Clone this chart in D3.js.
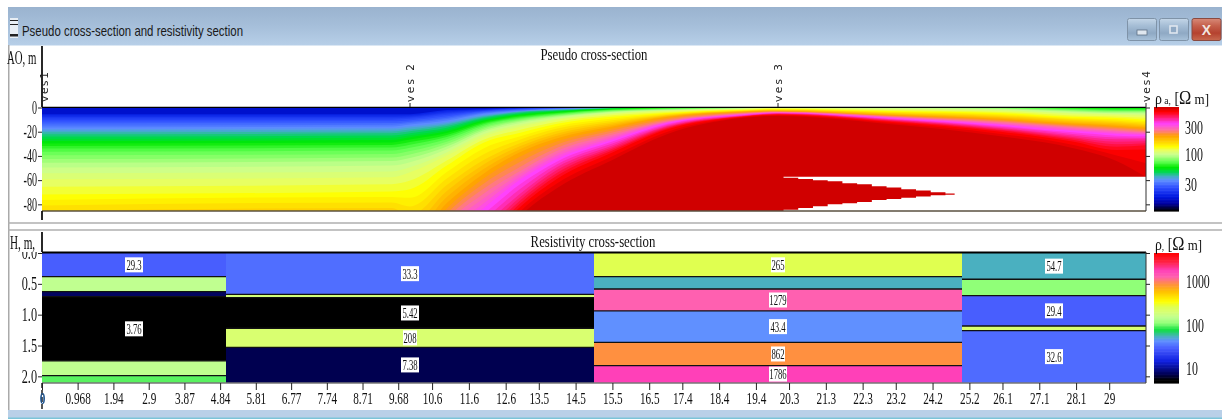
<!DOCTYPE html>
<html><head><meta charset="utf-8">
<script src="https://cdn.jsdelivr.net/npm/d3@7/dist/d3.min.js"></script>
<style>html,body{margin:0;padding:0;background:#fff;overflow:hidden}svg{display:block;filter:blur(0.4px)}</style>
</head><body><svg id="c" width="1222" height="419"></svg>
<script>
// ---------- data: pseudo cross-section ----------
const windowTitle = "Pseudo cross-section and resistivity section";
const vesNames = ["ves1", "ves 2", "ves 3", "ves4"];
const vesX = [0, 10, 20, 30];
const depthTicks = [0, -20, -40, -60, -80];
const rhoATicks = [30, 100, 300];
// isoline levels (apparent resistivity, ohm m)
const isoLevels = [20, 27, 36, 45, 60, 75, 100, 120, 138, 170, 215, 273, 350, 440, 565, 660];
const isoStations = [0, 9.5, 10, 11, 12, 13, 14, 15.5, 17, 19, 20, 23, 26, 28, 29.2, 30];
// depth (m) of each isoline, per station
const isoDepths = [
 [5.5,10.3,16.9,21,28.5,35,47.4,59.8,72.2,85.4,109,134,159,184,208,233],
 [5.5,10.3,16.1,20.2,27.6,34.2,45.8,58.2,69.7,82.9,105,130,155,179,204,229],
 [5.5,9.5,14.4,18.6,25.2,31.8,43.3,54,68,88.7,113,138,163,188,208,229],
 [2.1,6.2,11.1,14.4,20.2,25.2,33.4,40,48.3,63.9,80.4,94.4,109,126,142,159],
 [1.2,2.9,5.4,7.8,11.1,14.4,19.4,24.3,29.3,43.3,55.7,69.7,83.7,99.4,113,127],
 [0.4,1.2,2.9,3.7,6.2,8.7,12,16.1,21,29.3,37.5,51.6,59.8,72.2,81.3,89.5],
 [0,0.4,1.2,2.1,3.7,5.4,7.8,10.3,13.6,19.4,26,35,42.5,49.9,58.2,66.4],
 [0,0,0.4,0.4,1.2,2.1,3.7,5.4,7.8,11.9,16.1,21.8,26.8,31.8,36.7,43.3],
 [0,0,0,0,0.4,0.8,2.1,2.9,4.5,6.2,7.8,11.1,12.8,15.3,17.7,21.9],
 [0,0,0,0,0,0.4,0.8,1.2,2.1,2.9,3.7,5,6.2,7,7.8,8.7],
 [0,0,0,0,0,0,0.4,0.4,1.2,2.1,2.9,3.7,4.5,5,5.8,7],
 [0,0,0,0,0,0,0.4,1.6,2.9,4.5,6.2,7.4,8.7,10,11.5,13.6],
 [0,0,0,0,0,0.25,1.2,2.9,4.5,7,9.5,12,14.4,16.9,19.4,23.5],
 [0,0,0,0,0.4,1.2,3.3,5.5,7.8,10.3,13.6,16.1,19.4,23.5,27.6,33.4],
 [0,0,0,0,0.4,2.1,4.5,6.2,8.7,12,15.3,18.6,21.9,26.8,34.2,44.1],
 [0,0,0,0,0.4,2.1,4.5,7,10.3,13.6,16.9,20.2,22.7,26.8,32.6,57.3]
];
// no-data region
const blankTop = 57.3, blankBottom = 85.5;
const wedgeX =      [20.15,20.55,20.95,21.35,21.75,22.15,22.55,22.95,23.35,23.75,24.15,24.55,24.8,30];
const wedgeUpper =  [58,59,60,61,62.5,63.5,65,66,67.5,68.5,70,71,71.5,71.5];
const wedgeLower =  [84.5,83,81.5,80,79,78,76.5,75.5,74.5,73.5,72.5,72,71.5,71.5];

// ---------- data: resistivity section ----------
const xTickValues = [0,0.968,1.94,2.9,3.87,4.84,5.81,6.77,7.74,8.71,9.68,10.6,11.6,12.6,13.5,14.5,15.5,16.5,17.4,18.4,19.4,20.3,21.3,22.3,23.2,24.2,25.2,26.1,27.1,28.1,29];
const hTicks = [0, 0.5, 1, 1.5, 2];
const rhoTicks = [10, 100, 1000];
const blockEdges = [0, 5, 15, 25, 30];
const layerTops = [
 [0,0.384,0.627,0.709,1.75,1.99],
 [0,0.67,0.725,1.22,1.53],
 [0,0.384,0.584,0.94,1.448,1.827],
 [0,0.426,0.692,1.184,1.26]
];
const layerRho = [
 [29.3,150,8,3.76,150,95],
 [33.3,190,5.42,208,7.38],
 [265,54.7,1279,43.4,862,1786],
 [54.7,110,29.4,208,32.6]
];
const layerLabels = [
 ["29.3",null,null,"3.76",null,null],
 ["33.3",null,"5.42","208","7.38"],
 ["265",null,"1279","43.4","862","1786"],
 ["54.7",null,"29.4",null,"32.6"]
];
// colour ramps
const rhoAStops = [10.5,14,18.5,27,36,42,50,60,75,100,120,138,170,215,273,350,440,565,660];
const rhoAColors = ["#000000","#0000a0","#0018e0","#3050ff","#6090ff","#40b0c0","#00d850","#00e800","#60ff50","#c8ff90","#e8ff60","#ffff00","#ffd000","#ffa000","#ff70a0","#ff40ff","#ff2080","#ff0000","#d00000"];
const rhoStops = [4.8,5.5,7.38,15,30,43.4,54.7,78,110,150,208,265,347,590,862,1279,1786,2850,4500];
const rhoColors = ["#000000","#000000","#000050","#1020e0","#4a60ff","#6090ff","#4ab0c0","#10e040","#90ff78","#c0ff90","#d9ff70","#e0ff50","#ffff00","#ffc000","#ff9040","#ff60b0","#ff40b8","#ff2040","#ff0000"];

// ---------- scales ----------
const svg = d3.select("#c");
const SERIF = "'Liberation Serif',serif";
const L = 42, R = 1146;
const x = d3.scaleLinear().domain([0,30]).range([L,R]);
const yA = d3.scaleLinear().domain([0,85.5]).range([107.5,211]);
const yH = d3.scaleLinear().domain([0,2.1]).range([253,382.5]);
const logA = v => Math.log10(v);
const colA = d3.scaleLog().domain(rhoAStops).range(rhoAColors).clamp(true);
const colR = d3.scaleLog().domain(rhoStops).range(rhoColors).clamp(true);
const barA = d3.scaleLog().domain([10.5,690]).range([211,107]);
const barR = d3.scaleLog().domain([4.78,4540]).range([383,253]);

function squeeze(sel, f){
  sel.each(function(){
    const t=d3.select(this); const n=this.getComputedTextLength();
    t.attr("textLength",n*f).attr("lengthAdjust","spacingAndGlyphs");
  });
  return sel;
}
function label(txt,xp,yp,size,f,anchor){
  return squeeze(svg.append("text").attr("x",xp).attr("y",yp).attr("dy","0.35em")
    .attr("font-family",SERIF).attr("font-size",size).attr("fill","#111")
    .attr("text-anchor",anchor||"start").text(txt),f);
}

// ---------- window chrome ----------
const defs = svg.append("defs");
function grad(id,stops){
  const g=defs.append("linearGradient").attr("id",id).attr("x1",0).attr("x2",0).attr("y1",0).attr("y2",1);
  stops.forEach((c,i)=>g.append("stop").attr("offset",i/(stops.length-1)).attr("stop-color",c));
}
grad("bar",["#9ab3cf","#a6bfda","#b7cfe8"]);
grad("btn",["#c4d6e8","#a5bdd5","#8fa9c4","#a9c2da"]);
grad("cls",["#d78a78","#c5604c","#b5422f","#c86a50"]);
svg.append("rect").attr("x",8).attr("y",7).attr("width",1214).attr("height",38.5).attr("fill","url(#bar)");
svg.append("rect").attr("x",8).attr("y",45).attr("width",1.5).attr("height",365).attr("fill","#aaaaaa");
svg.append("rect").attr("x",8).attr("y",410).attr("width",1214).attr("height",9).attr("fill","#b9d0e8");
svg.append("rect").attr("x",8).attr("y",417.5).attr("width",1214).attr("height",1.5).attr("fill","#7cc4d8");
[223,230].forEach(v=>svg.append("rect").attr("x",8).attr("y",v-0.75).attr("width",1214).attr("height",1.5).attr("fill","#b0b0b0"));
// icon
svg.append("rect").attr("x",10).attr("y",18).attr("width",8).attr("height",20).attr("fill","#e8eef4");
[[20,1],[24,1],[34,2.5]].forEach(d=>svg.append("rect").attr("x",10).attr("y",d[0]).attr("width",8).attr("height",d[1]).attr("fill","#222"));
svg.append("text").attr("x",22).attr("y",30.5).attr("dy","0.35em").attr("font-family","'Liberation Sans Narrow','Liberation Sans',sans-serif")
  .attr("font-size",15).attr("fill","#1a1a1a").attr("textLength",221).attr("lengthAdjust","spacingAndGlyphs").text(windowTitle);
[[1127.5,"btn"],[1159.5,"btn"],[1192,"cls"]].forEach(d=>{
  svg.append("rect").attr("x",d[0]).attr("y",18.5).attr("width",29).attr("height",22).attr("rx",2)
   .attr("fill",`url(#${d[1]})`).attr("stroke",d[1]=="cls"?"#8a4a40":"#7f93a8");
});
svg.append("rect").attr("x",1137).attr("y",30).attr("width",10).attr("height",5).attr("fill","#dfe7ef").attr("stroke","#5d7186").attr("stroke-width",.8);
svg.append("rect").attr("x",1170).attr("y",26).attr("width",7).attr("height",7).attr("fill","#8fa9c4").attr("stroke","#dfe7ef").attr("stroke-width",1.6);
svg.append("text").attr("x",1206.5).attr("y",30).attr("dy","0.36em").attr("text-anchor","middle").attr("font-family","'Liberation Sans',sans-serif").attr("font-weight","bold").attr("font-size",14).attr("fill","#f2e6e0").text("X");

// ---------- pseudo section ----------
defs.append("clipPath").attr("id","clipA").append("rect").attr("x",L).attr("y",107.5).attr("width",R-L).attr("height",103.5);
const gA = svg.append("g").attr("clip-path","url(#clipA)");
const lo = logA(14), hi = logA(660), nBands = 54;
gA.append("rect").attr("x",L).attr("y",107.5).attr("width",R-L).attr("height",103.5).attr("fill",colA(17));
const bandLevels = d3.range(nBands).map(i=>Math.pow(10,lo+(hi-lo)*(i+1)/nBands)).filter(v=>v>=20);
const isoLog = isoLevels.map(logA);
const area = d3.area().x(d=>x(d.x)).y0(yA(90)).y1(d=>yA(d.d)).curve(d3.curveMonotoneX);
gA.selectAll("path.band").data(bandLevels).join("path").attr("class","band")
  .attr("fill",v=>colA(v))
  .attr("d",v=>{
    const lv=logA(v);
    return area(isoStations.map((s,i)=>{
      const depth=d3.scaleLinear().domain(isoLog).range(isoDepths[i]).clamp(true);
      return {x:s,d:depth(lv)};
    }));
  });
// no-data (white)
const wedge = wedgeX.map((u,i)=>({u,up:wedgeUpper[i],lw:wedgeLower[i]}));
gA.append("path").attr("fill","#fff").attr("d",d3.area().x(d=>x(d.u)).y0(yA(blankTop)).y1(d=>yA(d.up)).curve(d3.curveStepAfter)(wedge));
gA.append("path").attr("fill","#fff").attr("d",d3.area().x(d=>x(d.u)).y0(yA(blankBottom)).y1(d=>yA(d.lw)).curve(d3.curveStepAfter)(wedge));

// axes, pseudo section
const yAplot = d3.scaleLinear().domain([0,-85.5]).range([107.5,211]);
function cleanAxis(g,w){ g.select(".domain").remove(); g.selectAll("line").attr("stroke","#222").attr("stroke-width",w||1); }
const ax1 = svg.append("g").attr("transform",`translate(${L},0)`).call(d3.axisLeft(yAplot).tickValues(depthTicks).tickSize(4).tickPadding(1).tickFormat(d=>d));
cleanAxis(ax1);
ax1.selectAll("text").attr("font-family",SERIF).attr("font-size",18).attr("fill","#111").each(function(){
  squeeze(d3.select(this),0.56);
});
const ax2 = svg.append("g").attr("transform",`translate(${R},0)`).call(d3.axisRight(yAplot).tickValues(depthTicks).tickSize(4).tickFormat(""));
cleanAxis(ax2);
svg.append("line").attr("x1",L).attr("x2",R).attr("y1",107.3).attr("y2",107.3).attr("stroke","#000").attr("stroke-width",1.3);
svg.append("line").attr("x1",L).attr("x2",R).attr("y1",211).attr("y2",211).attr("stroke","#5a5040").attr("stroke-width",1.3);
svg.append("line").attr("x1",R).attr("x2",R).attr("y1",107).attr("y2",211).attr("stroke","#333").attr("stroke-width",1);
svg.append("line").attr("x1",L).attr("x2",L).attr("y1",46).attr("y2",107).attr("stroke","#111").attr("stroke-width",1.8);
svg.append("line").attr("x1",L).attr("x2",L).attr("y1",211).attr("y2",220).attr("stroke","#111").attr("stroke-width",1.8);

// VES markers
const vesLen = [30,38,38,31];
vesX.forEach((u,i)=>{
  const xp=x(u);
  svg.append("line").attr("x1",xp).attr("x2",xp).attr("y1",103).attr("y2",107).attr("stroke","#222");
  svg.append("text").attr("transform",`translate(${xp+(i==0?2:0)},102) rotate(-90)`).attr("dy","0.36em")
    .attr("font-family","'DejaVu Sans',sans-serif").attr("font-size",10.5).attr("fill","#222")
    .attr("textLength",vesLen[i]).attr("lengthAdjust","spacing").text(vesNames[i]);
});
label("Pseudo cross-section",594,54,16,0.8,"middle");
label("AO, m",7,57.5,18,0.6);

// composite legend titles with small subscript and large Omega
function rhoTitle(yp,sub,width){
  const t=svg.append("text").attr("x",1155).attr("y",yp).attr("dy","0.35em").attr("font-family",SERIF).attr("fill","#111").attr("font-size",16);
  t.append("tspan").text("ρ");
  t.append("tspan").attr("font-size",11).text(sub);
  t.append("tspan").text(" [");
  t.append("tspan").attr("font-size",19).text("Ω");
  t.append("tspan").attr("font-size",15).text(" m]");
  t.attr("textLength",width).attr("lengthAdjust","spacingAndGlyphs");
}

// colour bar A
const stepsA = d3.range(70).map(i=>Math.pow(10,logA(10.5)+(logA(690)-logA(10.5))*i/70));
svg.append("g").selectAll("rect").data(stepsA).join("rect")
  .attr("x",1154).attr("width",25)
  .attr("y",(d,i)=>barA(i<69?stepsA[i+1]:690)).attr("height",(d,i)=>barA(d)-barA(i<69?stepsA[i+1]:690)+0.6)
  .attr("fill",d=>colA(d));
const bA = svg.append("g").attr("transform","translate(1179,0)").call(d3.axisRight(barA).tickValues(rhoATicks).tickSize(0).tickPadding(6).tickFormat(d=>d));
bA.select(".domain").remove();
bA.selectAll("text").attr("font-family",SERIF).attr("font-size",18).attr("fill","#111").each(function(){squeeze(d3.select(this),0.66);});
rhoTitle(98," a,",54);

// ---------- resistivity section ----------
const blocks = [];
layerTops.forEach((tops,b)=>tops.forEach((t,k)=>blocks.push({
  b, k, top:t, bottom:k<tops.length-1?tops[k+1]:2.1, rho:layerRho[b][k], label:layerLabels[b][k]
})));
const gR = svg.append("g");
gR.selectAll("rect").data(blocks).join("rect")
  .attr("x",d=>x(blockEdges[d.b])).attr("width",d=>x(blockEdges[d.b+1])-x(blockEdges[d.b]))
  .attr("y",d=>yH(d.top)).attr("height",d=>yH(d.bottom)-yH(d.top))
  .attr("fill",d=>colR(d.rho));
gR.selectAll("line").data(blocks.filter(d=>d.k>0)).join("line")
  .attr("x1",d=>x(blockEdges[d.b])).attr("x2",d=>x(blockEdges[d.b+1]))
  .attr("y1",d=>yH(d.top)).attr("y2",d=>yH(d.top)).attr("stroke","#111").attr("stroke-width",1.3);
const labelled = blocks.filter(d=>d.label);
labelled.forEach(d=>{
  const cx=x((blockEdges[d.b]+blockEdges[d.b+1])/2), cy=(yH(d.top)+yH(d.bottom))/2;
  const w=d.label.length>=4?18:14;
  svg.append("rect").attr("x",cx-w/2).attr("y",cy-7.5).attr("width",w).attr("height",15).attr("fill","#fff");
  label(d.label,cx,cy,15,0.58,"middle");
});
svg.append("line").attr("x1",L).attr("x2",R).attr("y1",252.5).attr("y2",252.5).attr("stroke","#000").attr("stroke-width",2);
svg.append("line").attr("x1",L).attr("x2",R).attr("y1",383).attr("y2",383).attr("stroke","#333").attr("stroke-width",1);
svg.append("line").attr("x1",R).attr("x2",R).attr("y1",252).attr("y2",383).attr("stroke","#333");
svg.append("line").attr("x1",L).attr("x2",L).attr("y1",232).attr("y2",252).attr("stroke","#111").attr("stroke-width",1.8);
svg.append("line").attr("x1",L).attr("x2",L).attr("y1",383).attr("y2",409).attr("stroke","#111").attr("stroke-width",1.4).attr("stroke-dasharray","5 2");

defs.append("clipPath").attr("id","clipH").append("rect").attr("x",0).attr("y",252).attr("width",60).attr("height",140);
const ax3 = svg.append("g").attr("clip-path","url(#clipH)").append("g").attr("transform",`translate(${L},0)`)
  .call(d3.axisLeft(yH).tickValues(hTicks).tickSize(4).tickPadding(1).tickFormat(d3.format(".1f")));
cleanAxis(ax3);
ax3.selectAll("text").attr("font-family",SERIF).attr("font-size",18).attr("fill","#111").each(function(){squeeze(d3.select(this),0.68);});
const ax4 = svg.append("g").attr("transform",`translate(${R},0)`).call(d3.axisRight(yH).tickValues(hTicks).tickSize(4).tickFormat(""));
cleanAxis(ax4);
const ax5 = svg.append("g").attr("transform","translate(0,383)").call(d3.axisBottom(x).tickValues(xTickValues).tickSize(7).tickPadding(2).tickFormat(d=>d));
cleanAxis(ax5);
ax5.selectAll("text").attr("font-family",SERIF).attr("font-size",17).attr("fill","#111").each(function(d){
  squeeze(d3.select(this),0.66);
  if(d===0) d3.select(this).attr("fill","#1a4f8a").attr("font-weight","bold");
});
label("H, m,",10,243,18,0.62);
label("Resistivity cross-section",593,241,16,0.8,"middle");

const stepsR = d3.range(90).map(i=>Math.pow(10,logA(4.78)+(logA(4540)-logA(4.78))*i/90));
svg.append("g").selectAll("rect").data(stepsR).join("rect")
  .attr("x",1154).attr("width",25)
  .attr("y",(d,i)=>barR(i<89?stepsR[i+1]:4540)).attr("height",(d,i)=>barR(d)-barR(i<89?stepsR[i+1]:4540)+0.6)
  .attr("fill",d=>colR(d));
const bR = svg.append("g").attr("transform","translate(1179,0)").call(d3.axisRight(barR).tickValues(rhoTicks).tickSize(0).tickPadding(7).tickFormat(d=>d));
bR.select(".domain").remove();
bR.selectAll("text").attr("font-family",SERIF).attr("font-size",18).attr("fill","#111").each(function(){squeeze(d3.select(this),0.66);});
rhoTitle(244,",",47);
</script></body></html>
